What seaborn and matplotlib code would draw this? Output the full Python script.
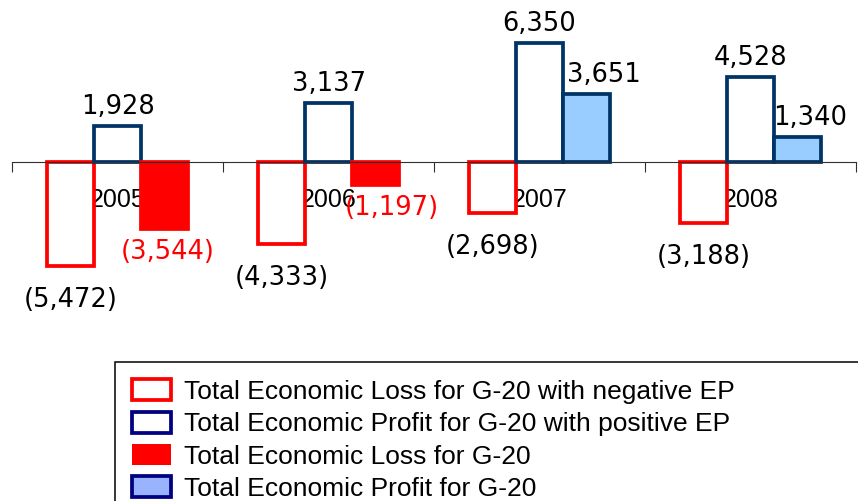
import matplotlib
matplotlib.use("Agg")
import matplotlib.pyplot as plt
from matplotlib.patches import Patch
import pandas as pd
import seaborn as sns

# Economic profit / loss of the G-20, by year
years = ["2005", "2006", "2007", "2008"]
loss_negative_ep = [-5472, -4333, -2698, -3188]
profit_positive_ep = [1928, 3137, 6350, 4528]
total_ep = [-3544, -1197, 3651, 1340]

legend_labels = [
    "Total Economic Loss for G-20 with negative EP",
    "Total Economic Profit for G-20 with positive EP",
    "Total Economic Loss for G-20",
    "Total Economic Profit for G-20",
]

RED = "#FF0000"
NAVY = "#003366"
LIGHT_BLUE = "#99CCFF"
LEGEND_NAVY = "#000080"
LEGEND_BLUE = "#99B3FF"

sns.set_theme(style="white")
plt.rcParams["font.family"] = ["Liberation Sans", "DejaVu Sans"]
plt.rcParams["text.color"] = "black"
plt.rcParams["xtick.color"] = "black"
plt.rcParams["xtick.labelcolor"] = "black"

df = pd.DataFrame({
    "year": years * 3,
    "series": ["neg"] * 4 + ["pos"] * 4 + ["total"] * 4,
    "value": loss_negative_ep + profit_positive_ep + total_ep,
})

W, H = 858, 501
PX = 72 / 100  # points per pixel at 100 dpi
fig = plt.figure(figsize=(W / 100, H / 100), dpi=100)
ax = fig.add_axes([12.3 / W, 0, (856 - 12.3) / W, 1])

sns.barplot(
    data=df, x="year", y="value", hue="series",
    order=years, hue_order=["neg", "pos", "total"],
    palette=["white", "white", "white"], saturation=1,
    width=0.668, errorbar=None, legend=False, ax=ax,
)

LW = 2.7
value_font = dict(family="DejaVu Sans", fontsize=18.5)
total_dx = [3, 16, 17, 13]

for k, container in enumerate(ax.containers):
    for j, bar in enumerate(container):
        v = [loss_negative_ep, profit_positive_ep, total_ep][k][j]
        bar.set_linewidth(LW)
        bar.set_joinstyle("miter")
        if k == 0:
            bar.set_facecolor("white"); bar.set_edgecolor(RED)
        elif k == 1:
            bar.set_facecolor("white"); bar.set_edgecolor(NAVY)
        elif v < 0:
            bar.set_facecolor(RED); bar.set_edgecolor(RED)
        else:
            bar.set_facecolor(LIGHT_BLUE); bar.set_edgecolor(NAVY)

        x = bar.get_x() + bar.get_width() / 2
        text = f"({abs(v):,})" if v < 0 else f"{v:,}"
        color = "black"
        dx = 0
        if k == 0:
            dy = -34
        elif k == 1:
            dy = 19
        else:
            dx = total_dx[j]
            if v < 0:
                dy = -23
                color = RED
            else:
                dy = 19
        ax.annotate(text, (x, v), xytext=(dx * PX, dy * PX),
                    textcoords="offset points", ha="center", va="center",
                    color=color, **value_font)

# axis through zero with ticks between the year groups
ax.set_xlim(-0.5, 3.5)
ax.set_ylim(-17940, 8612)
ax.set_xlabel("")
ax.set_ylabel("")
ax.set_yticks([])
for side in ("left", "right", "top"):
    ax.spines[side].set_visible(False)
ax.spines["bottom"].set_position(("data", 0))
ax.spines["bottom"].set_color("#303030")
ax.spines["bottom"].set_linewidth(0.8)
ax.set_xticks(range(len(years)))
ax.set_xticklabels(years, fontsize=18, color="black",
                   family=["Liberation Sans Narrow", "Liberation Sans"])
ax.set_xticks([i - 0.5 for i in range(len(years) + 1)], minor=True)
ax.tick_params(axis="x", which="major", bottom=True, length=0, pad=18.5)
ax.tick_params(axis="x", which="minor", bottom=True, length=7.5,
               width=0.8, color="#303030", direction="out")
ax.set_facecolor("none")

handles = [
    Patch(facecolor="white", edgecolor=RED, linewidth=LW),
    Patch(facecolor="white", edgecolor=LEGEND_NAVY, linewidth=LW),
    Patch(facecolor=RED, edgecolor=RED, linewidth=0),
    Patch(facecolor=LEGEND_BLUE, edgecolor=LEGEND_NAVY, linewidth=LW),
]
leg = fig.legend(
    handles=handles, labels=legend_labels,
    loc="upper left", bbox_to_anchor=(114.7 / W, 0, 1.0, 1 - 362 / H),
    bbox_transform=fig.transFigure, mode="expand",
    frameon=True, fancybox=False, edgecolor="black", framealpha=1,
    borderaxespad=0, borderpad=0.66, fontsize=19,
    handlelength=1.47, handleheight=0.85, handletextpad=0.5,
    labelspacing=0.29,
)
leg.get_frame().set_linewidth(1.1)
for t in leg.get_texts():
    t.set_color("black")

fig.savefig("out.png", dpi=100)
